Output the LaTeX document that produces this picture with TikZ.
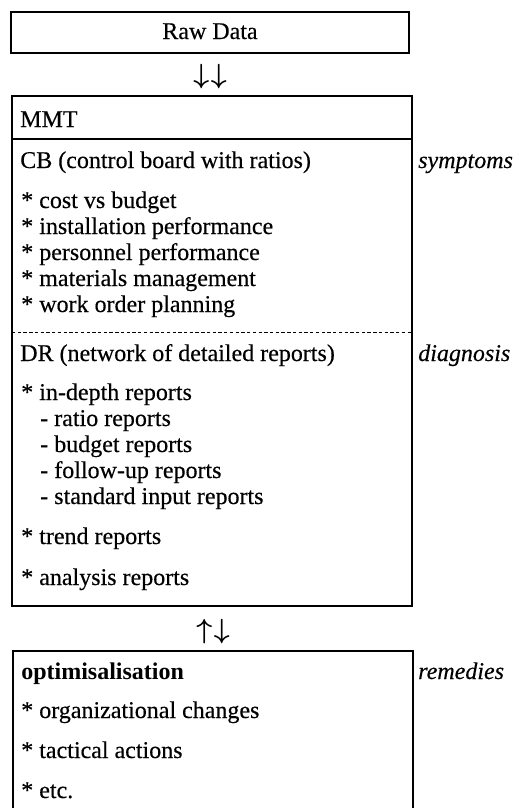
\documentclass[tikz,border=0pt]{standalone}
\usepackage{amsmath}
\usepackage{fontspec}
\setmainfont{Liberation Serif}[UprightFeatures={FakeBold=0.35},ItalicFeatures={FakeBold=0.35}]
\begin{document}
\begin{tikzpicture}[x=0.75pt,y=-0.75pt,
  txt/.style={anchor=base west,inner sep=0pt,font=\fontsize{18}{20}\selectfont},
  side/.style={txt,font=\fontsize{18}{20}\selectfont\itshape},
  arr/.style={inner sep=0pt,font=\fontsize{18}{20}\selectfont},
  flow/.style={inner sep=0pt,font=\fontsize{22}{24}\selectfont},
  thinbox/.style={line width=1.1pt},
  thickbox/.style={line width=2.2pt}]
\useasboundingbox (0,0) rectangle (514,808);

% input box
\draw[thinbox] (11,12) rectangle (409,53);
\node[arr,anchor=base] (raw) at (210,39) {Raw Data};
\node[flow] (down) at (210,77) {$\boldsymbol{\downarrow}\mkern1mu\boldsymbol{\downarrow}$};

% MMT box with control board and detailed reports
\draw[thickbox] (12,96) rectangle (412,606);
\draw[line width=0.8pt] (12,139) -- (412,139);
\draw[line width=0.7pt,dash pattern=on 2.5pt off 1.8pt] (12,332) -- (412,332);

\node[txt] (mmt) at (20,127) {MMT};
\node[txt] (cb) at (20,168) {CB (control board with ratios)};
\node[txt] (c1) at (21,208) {* cost vs budget};
\node[txt] (c2) at (21,234) {* installation performance};
\node[txt] (c3) at (21,260) {* personnel performance};
\node[txt] (c4) at (21,286) {* materials management};
\node[txt] (c5) at (21,312) {* work order planning};

\node[txt] (dr) at (20,361) {DR (network of detailed reports)};
\node[txt] (d1) at (21,400) {* in-depth reports};
\node[txt] (d2) at (40,426) {- ratio reports};
\node[txt] (d3) at (40,452) {- budget reports};
\node[txt] (d4) at (40,478) {- follow-up reports};
\node[txt] (d5) at (40,504) {- standard input reports};
\node[txt] (d6) at (21,544) {* trend reports};
\node[txt] (d7) at (21,585) {* analysis reports};

\node[side] (symp) at (418,168) {symptoms};
\node[side] (diag) at (418,361) {diagnosis};

\node[flow] (updown) at (213,632) {$\boldsymbol{\uparrow}\mkern1mu\boldsymbol{\downarrow}$};

% remedies box, open at the lower edge
\draw[thinbox] (13,808) -- (13,651) -- (413,651) -- (413,808);
\node[txt,font=\fontsize{18}{20}\selectfont\bfseries] (opt) at (21,679) {optimisalisation};
\node[txt] (o1) at (21,718) {* organizational changes};
\node[txt] (o2) at (21,758) {* tactical actions};
\node[txt] (o3) at (21,798) {* etc.};
\node[side] (rem) at (418,679) {remedies};
\end{tikzpicture}
\end{document}
